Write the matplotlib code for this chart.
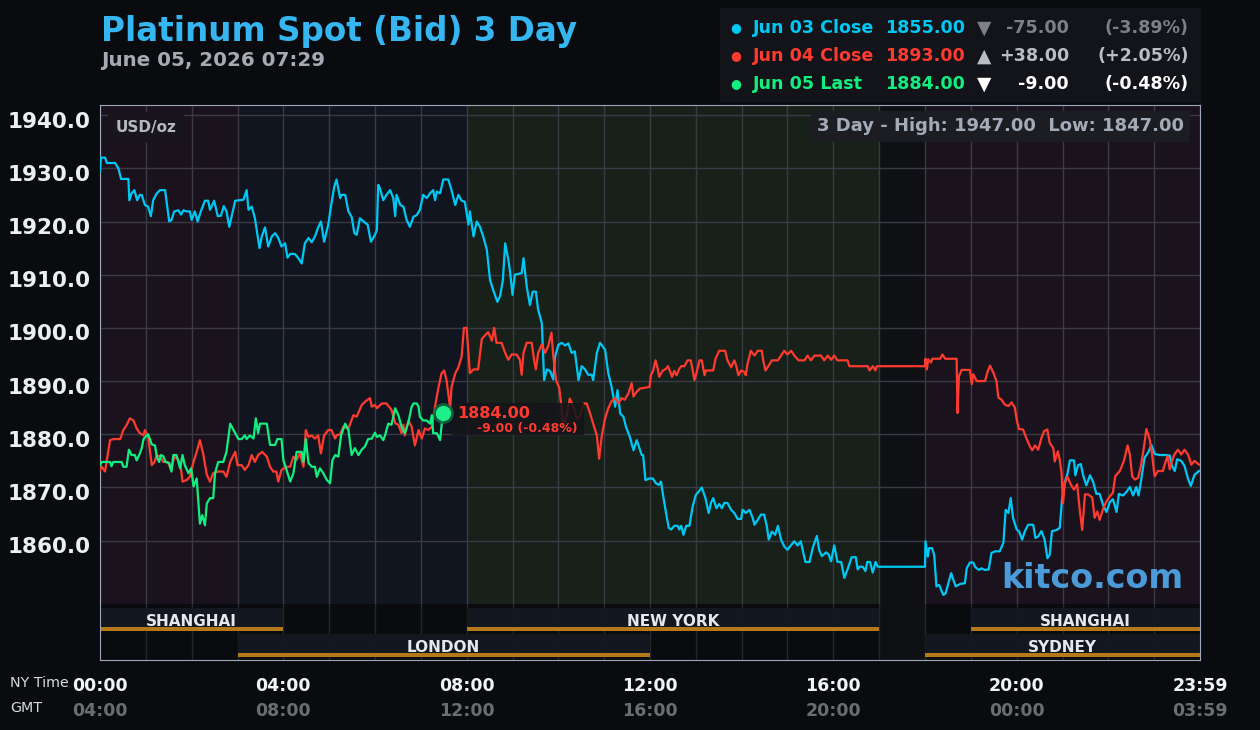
import numpy as np
import matplotlib.pyplot as plt
from matplotlib.patches import Rectangle
from matplotlib.transforms import ScaledTranslation

# (hour of NY day, price)
jun03 = [(0.00, 1929.4), (0.02, 1932.0), (0.11, 1932.0), (0.15, 1931.0), (0.33, 1931.0), (0.40, 1930.0), (0.46, 1928.0),
         (0.62, 1928.0), (0.64, 1924.0), (0.69, 1925.3), (0.75, 1925.9), (0.81, 1924.0), (0.87, 1925.0), (0.91, 1925.0),
         (0.98, 1923.1), (1.05, 1922.8), (1.11, 1921.0), (1.16, 1924.0), (1.24, 1925.3), (1.31, 1925.9), (1.42, 1925.9),
         (1.51, 1920.0), (1.56, 1920.3), (1.62, 1921.9), (1.71, 1922.1), (1.77, 1921.3), (1.82, 1922.1), (1.89, 1921.9),
         (1.96, 1921.9), (2.00, 1920.3), (2.07, 1921.9), (2.13, 1920.0), (2.20, 1921.9), (2.29, 1923.9), (2.36, 1923.9),
         (2.40, 1922.2), (2.49, 1923.9), (2.57, 1921.0), (2.64, 1921.1), (2.70, 1922.9), (2.76, 1921.9), (2.82, 1919.0),
         (2.87, 1920.9), (2.95, 1923.9), (3.13, 1924.1), (3.20, 1925.9), (3.24, 1922.2), (3.31, 1922.8), (3.38, 1920.6),
         (3.48, 1915.0), (3.53, 1917.2), (3.60, 1918.9), (3.67, 1915.3), (3.75, 1917.2), (3.82, 1917.8), (3.89, 1916.9),
         (3.96, 1915.3), (4.04, 1915.9), (4.09, 1913.2), (4.15, 1913.9), (4.25, 1913.9), (4.33, 1913.1), (4.40, 1912.1),
         (4.47, 1915.9), (4.55, 1916.9), (4.62, 1916.1), (4.69, 1917.2), (4.76, 1918.9), (4.82, 1920.0), (4.89, 1916.2),
         (4.98, 1919.4), (5.05, 1923.4), (5.11, 1926.5), (5.16, 1927.9), (5.24, 1924.4), (5.27, 1925.0), (5.35, 1925.0),
         (5.42, 1921.9), (5.49, 1920.9), (5.55, 1917.8), (5.60, 1917.5), (5.67, 1920.6), (5.75, 1920.0), (5.84, 1919.4),
         (5.91, 1916.2), (6.00, 1917.5), (6.04, 1918.4), (6.07, 1926.9), (6.11, 1926.2), (6.18, 1924.0), (6.25, 1925.0),
         (6.33, 1925.9), (6.40, 1924.4), (6.44, 1921.0), (6.47, 1925.0), (6.55, 1923.1), (6.62, 1922.8), (6.69, 1920.3),
         (6.76, 1919.0), (6.84, 1920.9), (6.91, 1921.2), (6.98, 1922.2), (7.05, 1925.0), (7.13, 1924.4), (7.20, 1925.3),
         (7.27, 1925.9), (7.31, 1924.0), (7.35, 1925.6), (7.42, 1925.3), (7.49, 1927.9), (7.60, 1927.9), (7.67, 1925.9),
         (7.75, 1923.1), (7.82, 1925.0), (7.89, 1923.9), (7.96, 1923.7), (8.04, 1919.4), (8.07, 1921.9), (8.15, 1917.2),
         (8.22, 1920.0), (8.29, 1919.0), (8.36, 1917.2), (8.44, 1914.7), (8.51, 1909.0), (8.58, 1907.1), (8.67, 1904.9),
         (8.73, 1906.0), (8.79, 1909.0), (8.84, 1915.9), (8.91, 1912.8), (8.95, 1910.3), (9.00, 1906.2), (9.05, 1910.0),
         (9.20, 1910.3), (9.24, 1913.1), (9.31, 1907.8), (9.38, 1904.3), (9.44, 1906.8), (9.51, 1906.8), (9.56, 1903.4),
         (9.64, 1900.9), (9.69, 1890.2), (9.75, 1892.2), (9.82, 1891.9), (9.89, 1890.3), (9.93, 1894.6), (10.00, 1896.8),
         (10.07, 1897.2), (10.15, 1896.7), (10.22, 1897.1), (10.29, 1895.3), (10.36, 1895.6), (10.44, 1890.2),
         (10.51, 1892.8), (10.58, 1892.2), (10.65, 1891.2), (10.73, 1891.2), (10.76, 1890.2), (10.84, 1895.3),
         (10.91, 1897.2), (11.02, 1895.9), (11.09, 1891.5), (11.16, 1889.0), (11.24, 1885.2), (11.29, 1888.3),
         (11.35, 1883.9), (11.42, 1883.3), (11.48, 1881.3), (11.56, 1879.5), (11.64, 1877.0), (11.71, 1878.9),
         (11.82, 1876.1), (11.85, 1876.1), (11.90, 1871.4), (11.99, 1871.7), (12.06, 1871.7), (12.13, 1870.8),
         (12.19, 1870.5), (12.24, 1871.1), (12.29, 1868.3), (12.35, 1865.2), (12.41, 1862.4), (12.46, 1862.1),
         (12.53, 1862.8), (12.60, 1862.8), (12.64, 1862.1), (12.68, 1862.8), (12.73, 1861.1), (12.79, 1862.8),
         (12.86, 1862.8), (12.93, 1866.4), (13.00, 1868.6), (13.06, 1869.2), (13.13, 1870.0), (13.21, 1868.0),
         (13.28, 1865.2), (13.33, 1867.1), (13.38, 1868.0), (13.45, 1866.1), (13.51, 1866.9), (13.57, 1866.1),
         (13.62, 1867.1), (13.69, 1867.1), (13.77, 1865.8), (13.84, 1865.2), (13.91, 1864.1), (13.99, 1864.1),
         (14.02, 1865.8), (14.09, 1865.2), (14.17, 1865.8), (14.24, 1864.3), (14.28, 1863.0), (14.35, 1863.9),
         (14.42, 1864.9), (14.49, 1864.9), (14.55, 1862.7), (14.59, 1860.2), (14.66, 1861.7), (14.73, 1861.1),
         (14.79, 1862.8), (14.86, 1860.2), (14.93, 1858.9), (15.00, 1858.3), (15.08, 1859.2), (15.15, 1859.9),
         (15.22, 1859.1), (15.29, 1859.9), (15.33, 1858.3), (15.39, 1856.0), (15.48, 1856.0), (15.55, 1858.6),
         (15.64, 1860.9), (15.69, 1858.3), (15.75, 1857.1), (15.84, 1857.8), (15.90, 1857.4), (15.95, 1856.1),
         (16.02, 1859.1), (16.09, 1856.0), (16.17, 1856.0), (16.24, 1853.0), (16.31, 1854.6), (16.40, 1856.9),
         (16.49, 1856.9), (16.53, 1854.6), (16.57, 1855.1), (16.64, 1855.1), (16.70, 1854.3), (16.74, 1856.0),
         (16.80, 1856.0), (16.86, 1854.0), (16.92, 1856.0), (16.97, 1855.1), (18.00, 1855.1), (18.01, 1859.9),
         (18.06, 1857.0), (18.09, 1858.6), (18.15, 1858.6), (18.20, 1857.4), (18.25, 1851.4), (18.31, 1851.7),
         (18.35, 1850.8), (18.40, 1849.8), (18.45, 1850.1), (18.51, 1852.0), (18.57, 1853.9), (18.62, 1852.6),
         (18.67, 1851.4), (18.73, 1851.7), (18.78, 1851.9), (18.87, 1852.0), (18.91, 1854.8), (18.98, 1855.9),
         (19.05, 1855.9), (19.10, 1855.0), (19.18, 1854.5), (19.23, 1854.8), (19.31, 1854.5), (19.39, 1854.6),
         (19.45, 1857.7), (19.53, 1858.0), (19.63, 1858.0), (19.71, 1859.6), (19.76, 1865.8), (19.82, 1865.2),
         (19.87, 1868.0), (19.92, 1864.3), (20.00, 1862.1), (20.05, 1861.8), (20.12, 1860.2), (20.18, 1861.8),
         (20.25, 1863.0), (20.36, 1863.0), (20.41, 1860.5), (20.47, 1860.8), (20.54, 1861.8), (20.61, 1860.2),
         (20.67, 1856.7), (20.72, 1857.3), (20.77, 1861.8), (20.87, 1862.0), (20.94, 1862.4), (20.99, 1867.8),
         (21.05, 1871.0), (21.11, 1872.6), (21.16, 1875.1), (21.25, 1875.1), (21.28, 1872.3), (21.34, 1874.2),
         (21.40, 1874.4), (21.45, 1872.3), (21.52, 1870.4), (21.60, 1872.3), (21.67, 1871.0), (21.74, 1868.8),
         (21.81, 1868.8), (21.89, 1866.6), (21.96, 1865.4), (22.03, 1867.2), (22.10, 1867.8), (22.18, 1865.4),
         (22.23, 1868.8), (22.32, 1868.5), (22.39, 1869.1), (22.47, 1870.1), (22.54, 1868.5), (22.61, 1870.1),
         (22.66, 1868.5), (22.72, 1871.6), (22.79, 1875.6), (22.87, 1876.6), (22.94, 1878.0), (23.01, 1876.3),
         (23.12, 1876.1), (23.27, 1876.1), (23.34, 1876.0), (23.39, 1874.0), (23.45, 1873.1), (23.50, 1875.3),
         (23.59, 1875.0), (23.66, 1874.1), (23.74, 1871.6), (23.80, 1870.3), (23.88, 1872.4), (23.98, 1873.1)]

jun04 = [(0.00, 1873.3), (0.04, 1873.9), (0.11, 1873.0), (0.15, 1875.2), (0.22, 1878.9), (0.29, 1879.1), (0.44, 1879.1),
         (0.51, 1880.8), (0.58, 1881.7), (0.65, 1883.0), (0.73, 1882.6), (0.80, 1881.1), (0.87, 1880.2), (0.95, 1879.8),
         (0.98, 1880.8), (1.05, 1879.5), (1.13, 1874.2), (1.19, 1874.8), (1.24, 1876.1), (1.31, 1875.8), (1.38, 1874.8),
         (1.48, 1874.8), (1.55, 1873.3), (1.62, 1875.8), (1.71, 1875.2), (1.77, 1873.3), (1.80, 1871.1), (1.89, 1871.4),
         (1.96, 1872.0), (2.04, 1874.8), (2.11, 1876.7), (2.18, 1878.9), (2.25, 1876.4), (2.33, 1872.4), (2.40, 1871.1),
         (2.47, 1872.7), (2.58, 1873.0), (2.69, 1873.0), (2.76, 1872.0), (2.84, 1874.8), (2.95, 1876.7), (3.00, 1874.2),
         (3.09, 1874.2), (3.16, 1873.3), (3.24, 1874.2), (3.31, 1876.1), (3.38, 1874.8), (3.45, 1876.1), (3.54, 1876.7),
         (3.64, 1875.8), (3.71, 1873.9), (3.78, 1873.0), (3.85, 1873.0), (3.89, 1871.1), (3.96, 1873.3), (4.07, 1873.9),
         (4.15, 1873.9), (4.22, 1875.8), (4.29, 1875.2), (4.36, 1876.4), (4.44, 1873.9), (4.49, 1880.8), (4.55, 1879.5),
         (4.62, 1879.8), (4.69, 1879.2), (4.76, 1879.8), (4.82, 1876.4), (4.89, 1879.8), (4.98, 1880.8), (5.05, 1880.8),
         (5.13, 1879.2), (5.16, 1879.8), (5.24, 1880.0), (5.31, 1881.4), (5.42, 1881.1), (5.53, 1883.6), (5.60, 1883.3),
         (5.71, 1885.5), (5.78, 1886.1), (5.89, 1886.8), (5.93, 1885.2), (6.00, 1885.5), (6.04, 1884.9), (6.15, 1885.8),
         (6.25, 1885.8), (6.36, 1884.6), (6.44, 1882.1), (6.51, 1881.8), (6.58, 1880.2), (6.62, 1881.8), (6.65, 1879.8),
         (6.73, 1882.6), (6.80, 1881.4), (6.87, 1877.9), (6.95, 1880.8), (7.02, 1879.2), (7.09, 1881.1), (7.16, 1880.8),
         (7.24, 1881.4), (7.31, 1885.2), (7.38, 1888.6), (7.45, 1891.4), (7.51, 1892.0), (7.56, 1890.2), (7.64, 1884.9),
         (7.67, 1888.9), (7.75, 1891.4), (7.82, 1892.6), (7.89, 1894.6), (7.94, 1900.0), (8.00, 1900.0), (8.07, 1891.5),
         (8.15, 1892.2), (8.25, 1892.2), (8.33, 1897.9), (8.40, 1898.6), (8.47, 1899.2), (8.55, 1897.6), (8.60, 1900.0),
         (8.65, 1897.2), (8.76, 1897.2), (8.84, 1895.3), (8.91, 1894.0), (8.98, 1895.0), (9.09, 1895.0), (9.16, 1894.0),
         (9.20, 1891.2), (9.24, 1895.3), (9.31, 1897.2), (9.42, 1897.2), (9.47, 1894.0), (9.51, 1892.2), (9.56, 1895.3),
         (9.64, 1896.9), (9.71, 1895.3), (9.78, 1896.6), (9.85, 1899.1), (9.89, 1894.7), (9.95, 1890.2), (10.02, 1888.7),
         (10.07, 1885.2), (10.11, 1881.5), (10.18, 1883.3), (10.25, 1886.7), (10.33, 1885.2), (10.40, 1883.0),
         (10.47, 1883.3), (10.55, 1885.8), (10.62, 1885.8), (10.69, 1884.0), (10.76, 1882.0), (10.84, 1879.8),
         (10.89, 1875.4), (10.95, 1879.8), (11.02, 1883.0), (11.09, 1884.9), (11.16, 1886.2), (11.24, 1886.8),
         (11.31, 1885.8), (11.38, 1886.8), (11.45, 1886.5), (11.53, 1887.7), (11.60, 1889.6), (11.64, 1887.1),
         (11.71, 1888.0), (11.78, 1888.6), (11.99, 1888.9), (12.02, 1891.1), (12.07, 1892.0), (12.12, 1893.9),
         (12.17, 1892.3), (12.20, 1890.8), (12.28, 1892.0), (12.35, 1892.3), (12.39, 1892.8), (12.44, 1891.8),
         (12.48, 1890.8), (12.53, 1891.9), (12.58, 1891.1), (12.64, 1892.3), (12.68, 1892.8), (12.75, 1892.8),
         (12.82, 1893.9), (12.89, 1893.9), (12.93, 1892.0), (12.97, 1890.2), (13.02, 1891.7), (13.08, 1893.9),
         (13.13, 1893.9), (13.19, 1891.1), (13.22, 1892.0), (13.38, 1892.0), (13.43, 1894.2), (13.51, 1895.7),
         (13.64, 1895.7), (13.69, 1893.9), (13.77, 1892.6), (13.84, 1893.9), (13.88, 1892.9), (13.93, 1891.1),
         (13.99, 1892.0), (14.06, 1891.7), (14.09, 1891.1), (14.13, 1893.3), (14.20, 1895.7), (14.28, 1894.8),
         (14.35, 1895.7), (14.44, 1895.7), (14.47, 1893.9), (14.52, 1892.0), (14.59, 1892.9), (14.66, 1893.9),
         (14.79, 1893.9), (14.86, 1894.8), (14.93, 1895.7), (15.00, 1895.0), (15.08, 1895.7), (15.15, 1894.8),
         (15.24, 1893.9), (15.37, 1893.9), (15.44, 1894.8), (15.51, 1893.9), (15.59, 1894.8), (15.73, 1894.8),
         (15.80, 1893.9), (15.88, 1894.8), (15.95, 1894.0), (16.02, 1894.8), (16.09, 1893.9), (16.31, 1893.9),
         (16.35, 1892.8), (16.75, 1892.8), (16.79, 1892.0), (16.86, 1892.8), (16.92, 1892.0), (16.95, 1892.8),
         (18.00, 1892.8), (18.01, 1894.2), (18.04, 1892.2), (18.07, 1894.1), (18.13, 1893.5), (18.16, 1894.2),
         (18.33, 1894.2), (18.38, 1895.0), (18.44, 1894.2), (18.69, 1894.2), (18.71, 1884.0), (18.74, 1890.9),
         (18.80, 1892.1), (18.98, 1892.1), (19.02, 1889.4), (19.05, 1891.3), (19.13, 1890.0), (19.31, 1890.0),
         (19.37, 1891.9), (19.42, 1892.9), (19.49, 1891.6), (19.56, 1890.0), (19.60, 1886.9), (19.67, 1886.5),
         (19.74, 1885.6), (19.82, 1885.3), (19.89, 1886.0), (19.96, 1885.0), (20.00, 1882.8), (20.05, 1881.0),
         (20.14, 1880.9), (20.21, 1879.3), (20.29, 1877.7), (20.34, 1877.0), (20.40, 1877.9), (20.47, 1877.1),
         (20.54, 1879.3), (20.60, 1880.6), (20.67, 1880.9), (20.72, 1878.4), (20.80, 1877.4), (20.83, 1874.9),
         (20.90, 1876.8), (20.94, 1875.2), (20.98, 1872.7), (21.01, 1867.0), (21.05, 1870.8), (21.11, 1872.0),
         (21.18, 1870.6), (21.25, 1869.6), (21.32, 1870.6), (21.38, 1865.5), (21.43, 1862.0), (21.49, 1868.7),
         (21.56, 1868.7), (21.65, 1868.1), (21.70, 1864.3), (21.76, 1865.5), (21.81, 1863.9), (21.89, 1866.1),
         (21.96, 1867.4), (22.03, 1868.3), (22.10, 1869.0), (22.15, 1872.1), (22.25, 1873.1), (22.34, 1875.0),
         (22.42, 1877.9), (22.47, 1876.2), (22.52, 1872.1), (22.58, 1871.5), (22.65, 1871.8), (22.71, 1874.0),
         (22.78, 1877.8), (22.83, 1881.0), (22.90, 1879.1), (22.95, 1876.5), (23.01, 1872.1), (23.08, 1873.1),
         (23.19, 1873.1), (23.24, 1874.6), (23.29, 1875.9), (23.34, 1873.4), (23.39, 1875.0), (23.44, 1876.2),
         (23.52, 1877.1), (23.59, 1876.2), (23.66, 1877.1), (23.74, 1876.2), (23.81, 1874.3), (23.88, 1875.0),
         (23.98, 1874.3)]

jun05 = [(0.00, 1874.2), (0.04, 1874.8), (0.22, 1874.8), (0.25, 1874.0), (0.29, 1874.8), (0.47, 1874.8), (0.51, 1873.9),
         (0.58, 1873.9), (0.63, 1877.1), (0.69, 1876.1), (0.76, 1876.1), (0.80, 1875.1), (0.87, 1876.4), (0.91, 1877.4),
         (0.95, 1879.1), (1.02, 1879.8), (1.05, 1880.0), (1.09, 1879.1), (1.13, 1878.1), (1.20, 1877.9), (1.24, 1875.8),
         (1.29, 1874.8), (1.33, 1876.1), (1.38, 1875.9), (1.43, 1874.8), (1.51, 1874.6), (1.56, 1873.0), (1.60, 1876.1),
         (1.67, 1876.1), (1.75, 1873.6), (1.80, 1876.1), (1.85, 1874.2), (1.93, 1872.7), (1.99, 1873.6), (2.04, 1870.2),
         (2.11, 1871.7), (2.18, 1863.2), (2.23, 1864.8), (2.29, 1862.9), (2.33, 1867.0), (2.40, 1868.0), (2.47, 1868.0),
         (2.51, 1872.7), (2.58, 1874.8), (2.69, 1874.8), (2.76, 1876.7), (2.84, 1882.0), (2.95, 1880.2), (3.02, 1879.1),
         (3.09, 1879.1), (3.16, 1879.8), (3.20, 1879.1), (3.27, 1879.8), (3.35, 1879.2), (3.40, 1883.0), (3.45, 1880.2),
         (3.49, 1882.0), (3.64, 1882.0), (3.71, 1878.0), (3.82, 1878.0), (3.87, 1879.1), (3.96, 1879.1), (4.00, 1875.2),
         (4.07, 1873.3), (4.15, 1871.1), (4.22, 1872.7), (4.29, 1876.7), (4.40, 1876.7), (4.44, 1874.8), (4.49, 1879.1),
         (4.55, 1874.6), (4.62, 1873.9), (4.69, 1873.9), (4.73, 1872.0), (4.80, 1873.6), (4.87, 1872.7), (4.95, 1871.4),
         (5.02, 1870.8), (5.07, 1875.1), (5.13, 1876.1), (5.20, 1875.8), (5.26, 1879.8), (5.35, 1882.0), (5.42, 1880.8),
         (5.49, 1876.1), (5.56, 1877.4), (5.64, 1876.1), (5.71, 1877.1), (5.78, 1877.7), (5.85, 1879.1), (5.93, 1879.2),
         (6.00, 1880.3), (6.04, 1879.5), (6.11, 1879.8), (6.18, 1878.9), (6.22, 1879.8), (6.25, 1880.8), (6.29, 1882.0),
         (6.36, 1881.8), (6.44, 1884.9), (6.51, 1883.6), (6.58, 1881.4), (6.65, 1880.2), (6.73, 1882.3), (6.80, 1885.2),
         (6.84, 1885.8), (6.91, 1885.8), (6.95, 1885.2), (6.98, 1883.3), (7.05, 1882.6), (7.13, 1882.6), (7.20, 1882.0),
         (7.24, 1883.6), (7.27, 1880.2), (7.35, 1880.2), (7.42, 1878.9), (7.48, 1884.0)]

series_names = ['Jun 03 Close', 'Jun 04 Close', 'Jun 05 Last']
series_prices = [1855.00, 1893.00, 1884.00]
series_change = [-75.00, 38.00, -9.00]
series_pct = [-3.89, 2.05, -0.48]
series_colors = ['#00c8f5', '#ff3b2f', '#12ee80']

y_ticks = [1860, 1870, 1880, 1890, 1900, 1910, 1920, 1930, 1940]
x_ticks = [0, 4, 8, 12, 16, 20, 24]
ny_labels = ['00:00', '04:00', '08:00', '12:00', '16:00', '20:00', '23:59']
gmt_labels = ['04:00', '08:00', '12:00', '16:00', '20:00', '00:00', '03:59']

# market sessions: name, start hour, end hour, row
sessions = [('SHANGHAI', 0, 4, 0), ('NEW YORK', 8, 17, 0), ('SHANGHAI', 19, 24, 0),
            ('LONDON', 3, 12, 1), ('SYDNEY', 18, 24, 1)]

BG = '#0a0b0e'
W, H = 1260, 730


def fx(px):
    return px / W


def fy(py):
    return 1 - py / H


fig = plt.figure(figsize=(12.6, 7.3), dpi=100, facecolor=BG)
plt.rcParams['font.family'] = 'DejaVu Sans'

ax = fig.add_axes([fx(100), fy(604), 1100 / W, 499 / H])
ax.set_xlim(0, 24)
ax.set_ylim(1848.1, 1941.9)
ax.set_facecolor(BG)
for a, b, c in [(0, 3, '#1a131e'), (3, 8, '#111520'), (8, 17, '#18201a'), (17, 18, '#0e1014'), (18, 24, '#1a131e')]:
    ax.axvspan(a, b, color=c, zorder=0, lw=0)
ax.set_xticks(range(0, 25))
ax.set_xticklabels([])
ax.set_yticks(y_ticks)
ax.set_yticklabels([f'{v:.1f}' for v in y_ticks], fontsize=15.5, fontweight='bold', color='#eceef2')
ax.tick_params(length=0)
ax.tick_params(axis='y', pad=7)
for lab in ax.get_yticklabels():
    lab.set_transform(lab.get_transform() + ScaledTranslation(0, -0.045, fig.dpi_scale_trans))
ax.grid(True, color='#3a3a44', lw=1)
ax.set_axisbelow(True)
for s in ['top', 'left', 'right']:
    ax.spines[s].set_color('#9ea6ba')
ax.spines['bottom'].set_visible(False)

for data, col, z in zip([jun03, jun04, jun05], series_colors, [3, 3.2, 3.4]):
    arr = np.array(data)
    ax.plot(arr[:, 0], arr[:, 1], color=col, lw=1.6, zorder=z)

# last price marker + label
last_t, last_p = jun05[-1]
ax.plot(last_t, last_p, 'o', ms=14, color='#0d6a40', alpha=0.8, zorder=6)
ax.plot(last_t, last_p, 'o', ms=10, color='#1ef08c', zorder=7)
ax.add_patch(Rectangle((last_t + 0.19, last_p - 4.13), 2.89, 6.07, fc='#141519', alpha=0.85, lw=0, zorder=5))
ax.text(last_t + 0.32, last_p, f'{series_prices[2]:.2f}', color='#ff3b2f', fontsize=11.5,
        fontweight='bold', va='center', ha='left', zorder=8)
ax.text(last_t + 0.74, last_p - 3.0, f'{series_change[2]:.2f} ({series_pct[2]:.2f}%)', color='#ff3b2f',
        fontsize=9, fontweight='bold', va='center', ha='left', zorder=8)

# corner info boxes
ax.text(0.014, 0.955, 'USD/oz', transform=ax.transAxes, color='#b4b8c0', fontsize=11, fontweight='bold',
        va='center', ha='left', zorder=8,
        bbox=dict(boxstyle='square,pad=0.5', fc='#18151c', ec='none'))
ax.text(0.9855, 0.957, '3 Day - High: 1947.00  Low: 1847.00', transform=ax.transAxes, color='#a3abb8',
        fontsize=13, fontweight='bold', va='center', ha='right', zorder=8,
        bbox=dict(boxstyle='square,pad=0.35', fc='#1c1d22', ec='none'))
ax.text(0.985, 0.052, 'kitco.com', transform=ax.transAxes, color='#4b9bd9', fontsize=24,
        fontweight='bold', va='center', ha='right', zorder=8)

# session bands
sax = fig.add_axes([fx(100), fy(660), 1100 / W, 56 / H])
sax.set_xlim(0, 24)
sax.set_ylim(56, 0)
sax.set_facecolor(BG)
sax.axvspan(17, 18, color='#0e1013', lw=0, zorder=0)
for h in range(1, 24):
    sax.axvline(h, color='#25272e', lw=1, zorder=0.5)
rows = [(3.7, 27.0, 17.0), (30.0, 52.7, 43.0)]
for name, a, b, r in sessions:
    top, bot, ty = rows[r]
    sax.add_patch(Rectangle((a, top), b - a, bot - top, fc='#141922', alpha=0.93, lw=0, zorder=1))
    sax.add_patch(Rectangle((a, bot - 3.8), b - a, 3.8, fc='#b5791a', lw=0, zorder=2))
    sax.text((a + b) / 2, ty, name, color='#e6e8ee', fontsize=11, fontweight='bold',
             ha='center', va='center', zorder=3)
sax.set_xticks([])
sax.set_yticks([])
for s in ['bottom', 'left', 'right']:
    sax.spines[s].set_color('#9ea6ba')
sax.spines['top'].set_visible(False)

for h, ny, gmt in zip(x_ticks, ny_labels, gmt_labels):
    sax.text(h, 81.7, ny, color='#f2f3f5', fontsize=12.5, fontweight='bold', ha='center', va='center',
             clip_on=False)
    sax.text(h, 106.7, gmt, color='#6c6d71', fontsize=12.5, fontweight='bold', ha='center', va='center',
             clip_on=False)
fig.text(fx(10), fy(683), 'NY Time', color='#d8dadd', fontsize=10.3, va='center', ha='left')
fig.text(fx(10), fy(708), 'GMT', color='#d8dadd', fontsize=10.3, va='center', ha='left')

# title
fig.text(fx(101), fy(41.5), 'Platinum Spot (Bid) 3 Day', color='#36b6f0', fontsize=23.5,
         fontweight='bold', va='baseline', ha='left')
fig.text(fx(101), fy(66.5), 'June 05, 2026 07:29', color='#a6aab2', fontsize=14.3,
         fontweight='bold', va='baseline', ha='left')

# legend box
fig.patches.append(Rectangle((fx(720), fy(102)), 481 / W, 94 / H, transform=fig.transFigure,
                             fc='#121419', ec='none', zorder=0))
arrows = ['\u25bc' if c < 0 else '\u25b2' for c in series_change]
chg_colors = ['#7d8088', '#b9bdc4', '#ffffff']
for i, (nm, pr, ch, pc, col) in enumerate(zip(series_names, series_prices, series_change, series_pct, series_colors)):
    y = fy(28 + i * 28)
    fig.text(fx(736), y, '\u25cf', color=col, fontsize=9, ha='center', va='center')
    fig.text(fx(753), y, nm, color=col, fontsize=12.6, fontweight='bold', ha='left', va='center')
    fig.text(fx(965), y, f'{pr:.2f}', color=col, fontsize=12.6, fontweight='bold', ha='right', va='center')
    fig.text(fx(984), y, arrows[i], color=chg_colors[i], fontsize=13.5, ha='center', va='center')
    fig.text(fx(1069), y, f'{ch:+.2f}' if ch > 0 else f'{ch:.2f}', color=chg_colors[i], fontsize=12.6,
             fontweight='bold', ha='right', va='center')
    fig.text(fx(1189), y, f'({pc:+.2f}%)' if pc > 0 else f'({pc:.2f}%)', color=chg_colors[i], fontsize=12.6,
             fontweight='bold', ha='right', va='center')

plt.savefig('out.png', dpi=100, facecolor=BG)
